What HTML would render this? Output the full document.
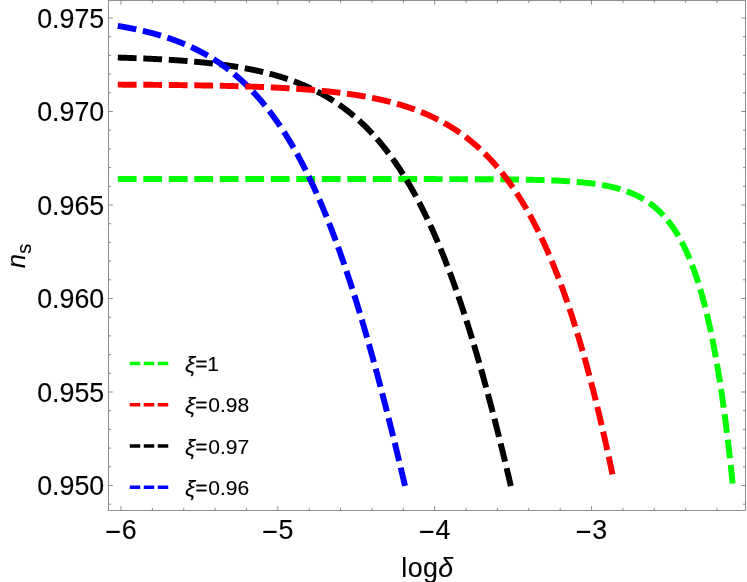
<!DOCTYPE html>
<html><head><meta charset="utf-8"><title>plot</title>
<style>
html,body{margin:0;padding:0;background:#fff;}
svg{display:block;will-change:transform;}
text{font-family:"Liberation Sans",sans-serif;font-size:26.8px;fill:#000;stroke:#000;stroke-width:0.12px;}
</style></head><body>
<svg width="747" height="582" viewBox="0 0 747 582">
<rect width="747" height="582" fill="#fff"/>
<g>
<path d="M117.80,179.05 L118.30,179.05 L118.80,179.05 L119.30,179.05 L119.80,179.05 L120.30,179.05 L120.80,179.05 L121.30,179.05 L121.80,179.05 L122.30,179.05 L122.80,179.05 L123.30,179.05 L123.80,179.05 L124.30,179.05 L124.80,179.05 L125.30,179.05 L125.80,179.05 L126.30,179.05 L126.80,179.05 L127.30,179.05 L127.80,179.05 L128.30,179.05 L128.80,179.05 L129.30,179.05 L129.80,179.05 L130.30,179.05 L130.80,179.05 L131.30,179.05 L131.80,179.05 L132.30,179.05 L132.80,179.05 L133.30,179.05 L133.80,179.05 L134.30,179.05 L134.80,179.05 L135.30,179.05 L135.80,179.05 L136.30,179.05 L136.80,179.05 L137.30,179.05 L137.80,179.05 L138.30,179.05 L138.80,179.05 L139.30,179.05 L139.80,179.05 L140.30,179.05 L140.80,179.05 L141.30,179.05 L141.80,179.05 L142.30,179.05 L142.80,179.05 L143.30,179.05 L143.80,179.05 L144.30,179.05 L144.80,179.05 L145.30,179.05 L145.80,179.05 L146.30,179.05 L146.80,179.05 L147.30,179.05 L147.80,179.05 L148.30,179.05 L148.80,179.05 L149.30,179.05 L149.80,179.05 L150.30,179.05 L150.80,179.05 L151.30,179.05 L151.80,179.05 L152.30,179.05 L152.80,179.05 L153.30,179.05 L153.80,179.05 L154.30,179.05 L154.80,179.05 L155.30,179.05 L155.80,179.05 L156.30,179.05 L156.80,179.05 L157.30,179.05 L157.80,179.05 L158.30,179.05 L158.80,179.05 L159.30,179.05 L159.80,179.05 L160.30,179.05 L160.80,179.05 L161.30,179.05 L161.80,179.05 L162.30,179.05 L162.80,179.05 L163.30,179.05 L163.80,179.05 L164.30,179.05 L164.80,179.05 L165.30,179.05 L165.80,179.05 L166.30,179.05 L166.80,179.05 L167.30,179.05 L167.80,179.05 L168.30,179.05 L168.80,179.05 L169.30,179.05 L169.80,179.05 L170.30,179.05 L170.80,179.05 L171.30,179.05 L171.80,179.05 L172.30,179.05 L172.80,179.05 L173.30,179.05 L173.80,179.05 L174.30,179.05 L174.80,179.05 L175.30,179.05 L175.80,179.05 L176.30,179.05 L176.80,179.05 L177.30,179.05 L177.80,179.05 L178.30,179.05 L178.80,179.05 L179.30,179.05 L179.80,179.05 L180.30,179.05 L180.80,179.05 L181.30,179.05 L181.80,179.05 L182.30,179.05 L182.80,179.05 L183.30,179.05 L183.80,179.05 L184.30,179.05 L184.80,179.05 L185.30,179.05 L185.80,179.05 L186.30,179.05 L186.80,179.05 L187.30,179.05 L187.80,179.05 L188.30,179.05 L188.80,179.05 L189.30,179.05 L189.80,179.05 L190.30,179.05 L190.80,179.05 L191.30,179.05 L191.80,179.05 L192.30,179.05 L192.80,179.05 L193.30,179.05 L193.80,179.05 L194.30,179.05 L194.80,179.05 L195.30,179.05 L195.80,179.05 L196.30,179.05 L196.80,179.05 L197.30,179.05 L197.80,179.05 L198.30,179.05 L198.80,179.05 L199.30,179.05 L199.80,179.05 L200.30,179.05 L200.80,179.05 L201.30,179.05 L201.80,179.05 L202.30,179.05 L202.80,179.05 L203.30,179.05 L203.80,179.05 L204.30,179.05 L204.80,179.05 L205.30,179.05 L205.80,179.05 L206.30,179.05 L206.80,179.05 L207.30,179.05 L207.80,179.05 L208.30,179.05 L208.80,179.05 L209.30,179.05 L209.80,179.05 L210.30,179.05 L210.80,179.05 L211.30,179.05 L211.80,179.05 L212.30,179.05 L212.80,179.05 L213.30,179.05 L213.80,179.05 L214.30,179.05 L214.80,179.05 L215.30,179.05 L215.80,179.05 L216.30,179.05 L216.80,179.05 L217.30,179.05 L217.80,179.05 L218.30,179.05 L218.80,179.05 L219.30,179.05 L219.80,179.05 L220.30,179.05 L220.80,179.05 L221.30,179.05 L221.80,179.05 L222.30,179.05 L222.80,179.05 L223.30,179.05 L223.80,179.05 L224.30,179.05 L224.80,179.05 L225.30,179.05 L225.80,179.05 L226.30,179.05 L226.80,179.05 L227.30,179.05 L227.80,179.05 L228.30,179.05 L228.80,179.05 L229.30,179.05 L229.80,179.05 L230.30,179.05 L230.80,179.05 L231.30,179.05 L231.80,179.05 L232.30,179.05 L232.80,179.05 L233.30,179.05 L233.80,179.05 L234.30,179.05 L234.80,179.05 L235.30,179.05 L235.80,179.05 L236.30,179.05 L236.80,179.05 L237.30,179.05 L237.80,179.05 L238.30,179.05 L238.80,179.05 L239.30,179.05 L239.80,179.05 L240.30,179.05 L240.80,179.05 L241.30,179.05 L241.80,179.05 L242.30,179.05 L242.80,179.05 L243.30,179.05 L243.80,179.05 L244.30,179.05 L244.80,179.05 L245.30,179.05 L245.80,179.05 L246.30,179.05 L246.80,179.05 L247.30,179.05 L247.80,179.05 L248.30,179.05 L248.80,179.05 L249.30,179.05 L249.80,179.05 L250.30,179.05 L250.80,179.05 L251.30,179.05 L251.80,179.05 L252.30,179.05 L252.80,179.05 L253.30,179.05 L253.80,179.05 L254.30,179.05 L254.80,179.05 L255.30,179.05 L255.80,179.05 L256.30,179.05 L256.80,179.05 L257.30,179.05 L257.80,179.05 L258.30,179.05 L258.80,179.05 L259.30,179.05 L259.80,179.05 L260.30,179.05 L260.80,179.05 L261.30,179.05 L261.80,179.05 L262.30,179.05 L262.80,179.05 L263.30,179.05 L263.80,179.05 L264.30,179.05 L264.80,179.05 L265.30,179.05 L265.80,179.05 L266.30,179.05 L266.80,179.05 L267.30,179.05 L267.80,179.05 L268.30,179.05 L268.80,179.05 L269.30,179.05 L269.80,179.05 L270.30,179.05 L270.80,179.05 L271.30,179.05 L271.80,179.05 L272.30,179.05 L272.80,179.05 L273.30,179.05 L273.80,179.05 L274.30,179.05 L274.80,179.05 L275.30,179.05 L275.80,179.05 L276.30,179.05 L276.80,179.05 L277.30,179.05 L277.80,179.05 L278.30,179.05 L278.80,179.05 L279.30,179.05 L279.80,179.05 L280.30,179.05 L280.80,179.05 L281.30,179.05 L281.80,179.05 L282.30,179.05 L282.80,179.05 L283.30,179.05 L283.80,179.05 L284.30,179.05 L284.80,179.05 L285.30,179.05 L285.80,179.05 L286.30,179.05 L286.80,179.05 L287.30,179.05 L287.80,179.05 L288.30,179.05 L288.80,179.05 L289.30,179.05 L289.80,179.05 L290.30,179.05 L290.80,179.05 L291.30,179.05 L291.80,179.05 L292.30,179.05 L292.80,179.05 L293.30,179.05 L293.80,179.05 L294.30,179.05 L294.80,179.05 L295.30,179.05 L295.80,179.05 L296.30,179.05 L296.80,179.05 L297.30,179.05 L297.80,179.05 L298.30,179.05 L298.80,179.05 L299.30,179.05 L299.80,179.05 L300.30,179.05 L300.80,179.05 L301.30,179.05 L301.80,179.05 L302.30,179.05 L302.80,179.05 L303.30,179.05 L303.80,179.05 L304.30,179.05 L304.80,179.05 L305.30,179.05 L305.80,179.05 L306.30,179.05 L306.80,179.05 L307.30,179.05 L307.80,179.05 L308.30,179.05 L308.80,179.05 L309.30,179.05 L309.80,179.05 L310.30,179.05 L310.80,179.05 L311.30,179.05 L311.80,179.05 L312.30,179.05 L312.80,179.05 L313.30,179.05 L313.80,179.05 L314.30,179.05 L314.80,179.05 L315.30,179.05 L315.80,179.05 L316.30,179.05 L316.80,179.05 L317.30,179.05 L317.80,179.05 L318.30,179.05 L318.80,179.05 L319.30,179.05 L319.80,179.05 L320.30,179.05 L320.80,179.05 L321.30,179.05 L321.80,179.05 L322.30,179.05 L322.80,179.05 L323.30,179.05 L323.80,179.05 L324.30,179.05 L324.80,179.05 L325.30,179.05 L325.80,179.05 L326.30,179.05 L326.80,179.05 L327.30,179.05 L327.80,179.05 L328.30,179.05 L328.80,179.05 L329.30,179.05 L329.80,179.05 L330.30,179.05 L330.80,179.05 L331.30,179.05 L331.80,179.05 L332.30,179.05 L332.80,179.05 L333.30,179.05 L333.80,179.05 L334.30,179.05 L334.80,179.05 L335.30,179.05 L335.80,179.05 L336.30,179.05 L336.80,179.05 L337.30,179.05 L337.80,179.05 L338.30,179.05 L338.80,179.05 L339.30,179.05 L339.80,179.05 L340.30,179.05 L340.80,179.05 L341.30,179.05 L341.80,179.05 L342.30,179.05 L342.80,179.05 L343.30,179.05 L343.80,179.05 L344.30,179.05 L344.80,179.05 L345.30,179.05 L345.80,179.05 L346.30,179.05 L346.80,179.05 L347.30,179.05 L347.80,179.05 L348.30,179.05 L348.80,179.05 L349.30,179.05 L349.80,179.05 L350.30,179.05 L350.80,179.05 L351.30,179.05 L351.80,179.05 L352.30,179.05 L352.80,179.05 L353.30,179.05 L353.80,179.05 L354.30,179.05 L354.80,179.05 L355.30,179.05 L355.80,179.05 L356.30,179.05 L356.80,179.05 L357.30,179.05 L357.80,179.05 L358.30,179.05 L358.80,179.05 L359.30,179.05 L359.80,179.05 L360.30,179.05 L360.80,179.05 L361.30,179.06 L361.80,179.06 L362.30,179.06 L362.80,179.06 L363.30,179.06 L363.80,179.06 L364.30,179.06 L364.80,179.06 L365.30,179.06 L365.80,179.06 L366.30,179.06 L366.80,179.06 L367.30,179.06 L367.80,179.06 L368.30,179.06 L368.80,179.06 L369.30,179.06 L369.80,179.06 L370.30,179.06 L370.80,179.06 L371.30,179.06 L371.80,179.06 L372.30,179.06 L372.80,179.06 L373.30,179.06 L373.80,179.06 L374.30,179.06 L374.80,179.06 L375.30,179.06 L375.80,179.06 L376.30,179.06 L376.80,179.06 L377.30,179.06 L377.80,179.06 L378.30,179.06 L378.80,179.06 L379.30,179.06 L379.80,179.06 L380.30,179.06 L380.80,179.06 L381.30,179.06 L381.80,179.06 L382.30,179.06 L382.80,179.06 L383.30,179.06 L383.80,179.06 L384.30,179.06 L384.80,179.06 L385.30,179.06 L385.80,179.06 L386.30,179.06 L386.80,179.06 L387.30,179.06 L387.80,179.06 L388.30,179.06 L388.80,179.06 L389.30,179.06 L389.80,179.06 L390.30,179.06 L390.80,179.06 L391.30,179.06 L391.80,179.06 L392.30,179.06 L392.80,179.06 L393.30,179.06 L393.80,179.06 L394.30,179.06 L394.80,179.06 L395.30,179.06 L395.80,179.06 L396.30,179.06 L396.80,179.06 L397.30,179.06 L397.80,179.06 L398.30,179.06 L398.80,179.07 L399.30,179.07 L399.80,179.07 L400.30,179.07 L400.80,179.07 L401.30,179.07 L401.80,179.07 L402.30,179.07 L402.80,179.07 L403.30,179.07 L403.80,179.07 L404.30,179.07 L404.80,179.07 L405.30,179.07 L405.80,179.07 L406.30,179.07 L406.80,179.07 L407.30,179.07 L407.80,179.07 L408.30,179.07 L408.80,179.07 L409.30,179.07 L409.80,179.07 L410.30,179.07 L410.80,179.07 L411.30,179.07 L411.80,179.07 L412.30,179.07 L412.80,179.07 L413.30,179.07 L413.80,179.07 L414.30,179.07 L414.80,179.07 L415.30,179.07 L415.80,179.08 L416.30,179.08 L416.80,179.08 L417.30,179.08 L417.80,179.08 L418.30,179.08 L418.80,179.08 L419.30,179.08 L419.80,179.08 L420.30,179.08 L420.80,179.08 L421.30,179.08 L421.80,179.08 L422.30,179.08 L422.80,179.08 L423.30,179.08 L423.80,179.08 L424.30,179.08 L424.80,179.08 L425.30,179.08 L425.80,179.08 L426.30,179.08 L426.80,179.08 L427.30,179.09 L427.80,179.09 L428.30,179.09 L428.80,179.09 L429.30,179.09 L429.80,179.09 L430.30,179.09 L430.80,179.09 L431.30,179.09 L431.80,179.09 L432.30,179.09 L432.80,179.09 L433.30,179.09 L433.80,179.09 L434.30,179.09 L434.80,179.09 L435.30,179.09 L435.80,179.09 L436.30,179.10 L436.80,179.10 L437.30,179.10 L437.80,179.10 L438.30,179.10 L438.80,179.10 L439.30,179.10 L439.80,179.10 L440.30,179.10 L440.80,179.10 L441.30,179.10 L441.80,179.10 L442.30,179.10 L442.80,179.11 L443.30,179.11 L443.80,179.11 L444.30,179.11 L444.80,179.11 L445.30,179.11 L445.80,179.11 L446.30,179.11 L446.80,179.11 L447.30,179.11 L447.80,179.11 L448.30,179.11 L448.80,179.12 L449.30,179.12 L449.80,179.12 L450.30,179.12 L450.80,179.12 L451.30,179.12 L451.80,179.12 L452.30,179.12 L452.80,179.12 L453.30,179.13 L453.80,179.13 L454.30,179.13 L454.80,179.13 L455.30,179.13 L455.80,179.13 L456.30,179.13 L456.80,179.13 L457.30,179.13 L457.80,179.14 L458.30,179.14 L458.80,179.14 L459.30,179.14 L459.80,179.14 L460.30,179.14 L460.80,179.14 L461.30,179.15 L461.80,179.15 L462.30,179.15 L462.80,179.15 L463.30,179.15 L463.80,179.15 L464.30,179.15 L464.80,179.16 L465.30,179.16 L465.80,179.16 L466.30,179.16 L466.80,179.16 L467.30,179.16 L467.80,179.17 L468.30,179.17 L468.80,179.17 L469.30,179.17 L469.80,179.17 L470.30,179.17 L470.80,179.18 L471.30,179.18 L471.80,179.18 L472.30,179.18 L472.80,179.18 L473.30,179.19 L473.80,179.19 L474.30,179.19 L474.80,179.19 L475.30,179.19 L475.80,179.20 L476.30,179.20 L476.80,179.20 L477.30,179.20 L477.80,179.20 L478.30,179.21 L478.80,179.21 L479.30,179.21 L479.80,179.21 L480.30,179.22 L480.80,179.22 L481.30,179.22 L481.80,179.22 L482.30,179.23 L482.80,179.23 L483.30,179.23 L483.80,179.23 L484.30,179.24 L484.80,179.24 L485.30,179.24 L485.80,179.25 L486.30,179.25 L486.80,179.25 L487.30,179.25 L487.80,179.26 L488.30,179.26 L488.80,179.26 L489.30,179.27 L489.80,179.27 L490.30,179.27 L490.80,179.28 L491.30,179.28 L491.80,179.28 L492.30,179.29 L492.80,179.29 L493.30,179.29 L493.80,179.30 L494.30,179.30 L494.80,179.30 L495.30,179.31 L495.80,179.31 L496.30,179.32 L496.80,179.32 L497.30,179.32 L497.80,179.33 L498.30,179.33 L498.80,179.34 L499.30,179.34 L499.80,179.34 L500.30,179.35 L500.80,179.35 L501.30,179.36 L501.80,179.36 L502.30,179.37 L502.80,179.37 L503.30,179.38 L503.80,179.38 L504.30,179.39 L504.80,179.39 L505.30,179.40 L505.80,179.40 L506.30,179.41 L506.80,179.41 L507.30,179.42 L507.80,179.42 L508.30,179.43 L508.80,179.43 L509.30,179.44 L509.80,179.45 L510.30,179.45 L510.80,179.46 L511.30,179.46 L511.80,179.47 L512.30,179.48 L512.80,179.48 L513.30,179.49 L513.80,179.49 L514.30,179.50 L514.80,179.51 L515.30,179.51 L515.80,179.52 L516.30,179.53 L516.80,179.54 L517.30,179.54 L517.80,179.55 L518.30,179.56 L518.80,179.56 L519.30,179.57 L519.80,179.58 L520.30,179.59 L520.80,179.60 L521.30,179.60 L521.80,179.61 L522.30,179.62 L522.80,179.63 L523.30,179.64 L523.80,179.65 L524.30,179.65 L524.80,179.66 L525.30,179.67 L525.80,179.68 L526.30,179.69 L526.80,179.70 L527.30,179.71 L527.80,179.72 L528.30,179.73 L528.80,179.74 L529.30,179.75 L529.80,179.76 L530.30,179.77 L530.80,179.78 L531.30,179.79 L531.80,179.80 L532.30,179.82 L532.80,179.83 L533.30,179.84 L533.80,179.85 L534.30,179.86 L534.80,179.87 L535.30,179.89 L535.80,179.90 L536.30,179.91 L536.80,179.92 L537.30,179.94 L537.80,179.95 L538.30,179.96 L538.80,179.98 L539.30,179.99 L539.80,180.00 L540.30,180.02 L540.80,180.03 L541.30,180.05 L541.80,180.06 L542.30,180.08 L542.80,180.09 L543.30,180.11 L543.80,180.12 L544.30,180.14 L544.80,180.15 L545.30,180.17 L545.80,180.19 L546.30,180.20 L546.80,180.22 L547.30,180.24 L547.80,180.26 L548.30,180.27 L548.80,180.29 L549.30,180.31 L549.80,180.33 L550.30,180.35 L550.80,180.37 L551.30,180.39 L551.80,180.41 L552.30,180.43 L552.80,180.45 L553.30,180.47 L553.80,180.49 L554.30,180.51 L554.80,180.53 L555.30,180.55 L555.80,180.58 L556.30,180.60 L556.80,180.62 L557.30,180.64 L557.80,180.67 L558.30,180.69 L558.80,180.72 L559.30,180.74 L559.80,180.77 L560.30,180.79 L560.80,180.82 L561.30,180.84 L561.80,180.87 L562.30,180.90 L562.80,180.92 L563.30,180.95 L563.80,180.98 L564.30,181.01 L564.80,181.04 L565.30,181.07 L565.80,181.10 L566.30,181.13 L566.80,181.16 L567.30,181.19 L567.80,181.22 L568.30,181.25 L568.80,181.29 L569.30,181.32 L569.80,181.35 L570.30,181.39 L570.80,181.42 L571.30,181.46 L571.80,181.49 L572.30,181.53 L572.80,181.56 L573.30,181.60 L573.80,181.64 L574.30,181.68 L574.80,181.72 L575.30,181.76 L575.80,181.80 L576.30,181.84 L576.80,181.88 L577.30,181.92 L577.80,181.96 L578.30,182.01 L578.80,182.05 L579.30,182.09 L579.80,182.14 L580.30,182.18 L580.80,182.23 L581.30,182.28 L581.80,182.33 L582.30,182.37 L582.80,182.42 L583.30,182.47 L583.80,182.52 L584.30,182.58 L584.80,182.63 L585.30,182.68 L585.80,182.73 L586.30,182.79 L586.80,182.84 L587.30,182.90 L587.80,182.96 L588.30,183.01 L588.80,183.07 L589.30,183.13 L589.80,183.19 L590.30,183.26 L590.80,183.32 L591.30,183.38 L591.80,183.44 L592.30,183.51 L592.80,183.58 L593.30,183.64 L593.80,183.71 L594.30,183.78 L594.80,183.85 L595.30,183.92 L595.80,183.99 L596.30,184.07 L596.80,184.14 L597.30,184.22 L597.80,184.29 L598.30,184.37 L598.80,184.45 L599.30,184.53 L599.80,184.61 L600.30,184.69 L600.80,184.78 L601.30,184.86 L601.80,184.95 L602.30,185.04 L602.80,185.12 L603.30,185.21 L603.80,185.31 L604.30,185.40 L604.80,185.49 L605.30,185.59 L605.80,185.68 L606.30,185.78 L606.80,185.88 L607.30,185.98 L607.80,186.09 L608.30,186.19 L608.80,186.30 L609.30,186.40 L609.80,186.51 L610.30,186.62 L610.80,186.74 L611.30,186.85 L611.80,186.97 L612.30,187.08 L612.80,187.20 L613.30,187.32 L613.80,187.45 L614.30,187.57 L614.80,187.70 L615.30,187.83 L615.80,187.96 L616.30,188.09 L616.80,188.22 L617.30,188.36 L617.80,188.50 L618.30,188.64 L618.80,188.78 L619.30,188.92 L619.80,189.07 L620.30,189.22 L620.80,189.37 L621.30,189.52 L621.80,189.68 L622.30,189.84 L622.80,190.00 L623.30,190.16 L623.80,190.32 L624.30,190.49 L624.80,190.66 L625.30,190.83 L625.80,191.01 L626.30,191.19 L626.80,191.37 L627.30,191.55 L627.80,191.73 L628.30,191.92 L628.80,192.11 L629.30,192.31 L629.80,192.51 L630.30,192.71 L630.80,192.91 L631.30,193.11 L631.80,193.32 L632.30,193.54 L632.80,193.75 L633.30,193.97 L633.80,194.19 L634.30,194.42 L634.80,194.65 L635.30,194.88 L635.80,195.11 L636.30,195.35 L636.80,195.59 L637.30,195.84 L637.80,196.09 L638.30,196.34 L638.80,196.60 L639.30,196.86 L639.80,197.13 L640.30,197.40 L640.80,197.67 L641.30,197.95 L641.80,198.23 L642.30,198.51 L642.80,198.80 L643.30,199.10 L643.80,199.40 L644.30,199.70 L644.80,200.01 L645.30,200.32 L645.80,200.64 L646.30,200.96 L646.80,201.29 L647.30,201.62 L647.80,201.95 L648.30,202.30 L648.80,202.64 L649.30,202.99 L649.80,203.35 L650.30,203.71 L650.80,204.08 L651.30,204.46 L651.80,204.83 L652.30,205.22 L652.80,205.61 L653.30,206.01 L653.80,206.41 L654.30,206.82 L654.80,207.23 L655.30,207.65 L655.80,208.08 L656.30,208.52 L656.80,208.96 L657.30,209.40 L657.80,209.86 L658.30,210.32 L658.80,210.79 L659.30,211.26 L659.80,211.74 L660.30,212.23 L660.80,212.73 L661.30,213.23 L661.80,213.74 L662.30,214.26 L662.80,214.79 L663.30,215.33 L663.80,215.87 L664.30,216.42 L664.80,216.98 L665.30,217.55 L665.80,218.13 L666.30,218.72 L666.80,219.31 L667.30,219.92 L667.80,220.53 L668.30,221.15 L668.80,221.78 L669.30,222.43 L669.80,223.08 L670.30,223.74 L670.80,224.41 L671.30,225.09 L671.80,225.79 L672.30,226.49 L672.80,227.20 L673.30,227.93 L673.80,228.66 L674.30,229.41 L674.80,230.17 L675.30,230.94 L675.80,231.72 L676.30,232.52 L676.80,233.32 L677.30,234.14 L677.80,234.97 L678.30,235.82 L678.80,236.67 L679.30,237.54 L679.80,238.43 L680.30,239.32 L680.80,240.24 L681.30,241.16 L681.80,242.10 L682.30,243.05 L682.80,244.02 L683.30,245.01 L683.80,246.01 L684.30,247.02 L684.80,248.05 L685.30,249.10 L685.80,250.16 L686.30,251.24 L686.80,252.34 L687.30,253.45 L687.80,254.58 L688.30,255.73 L688.80,256.89 L689.30,258.08 L689.80,259.28 L690.30,260.50 L690.80,261.74 L691.30,263.00 L691.80,264.28 L692.30,265.58 L692.80,266.90 L693.30,268.25 L693.80,269.61 L694.30,270.99 L694.80,272.40 L695.30,273.83 L695.80,275.28 L696.30,276.75 L696.80,278.25 L697.30,279.77 L697.80,281.31 L698.30,282.88 L698.80,284.48 L699.30,286.10 L699.80,287.74 L700.30,289.42 L700.80,291.11 L701.30,292.84 L701.80,294.59 L702.30,296.38 L702.80,298.19 L703.30,300.02 L703.80,301.89 L704.30,303.79 L704.80,305.72 L705.30,307.68 L705.80,309.68 L706.30,311.70 L706.80,313.76 L707.30,315.85 L707.80,317.98 L708.30,320.14 L708.80,322.33 L709.30,324.56 L709.80,326.83 L710.30,329.14 L710.80,331.48 L711.30,333.86 L711.80,336.28 L712.30,338.74 L712.80,341.24 L713.30,343.78 L713.80,346.37 L714.30,349.00 L714.80,351.67 L715.30,354.38 L715.80,357.14 L716.30,359.95 L716.80,362.80 L717.30,365.71 L717.80,368.66 L718.30,371.66 L718.80,374.71 L719.30,377.81 L719.80,380.97 L720.30,384.18 L720.80,387.44 L721.30,390.76 L721.80,394.14 L722.30,397.57 L722.80,401.06 L723.30,404.61 L723.80,408.23 L724.30,411.91 L724.80,415.65 L725.30,419.45 L725.80,423.32 L726.30,427.26 L726.80,431.27 L727.30,435.35 L727.80,439.50 L728.30,443.72 L728.80,448.02 L729.30,452.39 L729.80,456.84 L730.30,461.37 L730.80,465.98 L731.30,470.68 L731.80,475.45 L732.30,480.32 L732.68,484.10" fill="none" stroke="#00ff00" stroke-width="5.95" stroke-dasharray="18.8 6.7"/>
<path d="M117.80,57.57 L118.30,57.59 L118.80,57.60 L119.30,57.62 L119.80,57.63 L120.30,57.65 L120.80,57.66 L121.30,57.68 L121.80,57.69 L122.30,57.71 L122.80,57.72 L123.30,57.74 L123.80,57.76 L124.30,57.77 L124.80,57.79 L125.30,57.80 L125.80,57.82 L126.30,57.84 L126.80,57.85 L127.30,57.87 L127.80,57.89 L128.30,57.90 L128.80,57.92 L129.30,57.94 L129.80,57.95 L130.30,57.97 L130.80,57.99 L131.30,58.01 L131.80,58.02 L132.30,58.04 L132.80,58.06 L133.30,58.08 L133.80,58.10 L134.30,58.11 L134.80,58.13 L135.30,58.15 L135.80,58.17 L136.30,58.19 L136.80,58.21 L137.30,58.23 L137.80,58.25 L138.30,58.27 L138.80,58.28 L139.30,58.30 L139.80,58.32 L140.30,58.34 L140.80,58.36 L141.30,58.39 L141.80,58.41 L142.30,58.43 L142.80,58.45 L143.30,58.47 L143.80,58.49 L144.30,58.51 L144.80,58.53 L145.30,58.55 L145.80,58.57 L146.30,58.60 L146.80,58.62 L147.30,58.64 L147.80,58.66 L148.30,58.69 L148.80,58.71 L149.30,58.73 L149.80,58.75 L150.30,58.78 L150.80,58.80 L151.30,58.82 L151.80,58.85 L152.30,58.87 L152.80,58.90 L153.30,58.92 L153.80,58.94 L154.30,58.97 L154.80,58.99 L155.30,59.02 L155.80,59.04 L156.30,59.07 L156.80,59.09 L157.30,59.12 L157.80,59.15 L158.30,59.17 L158.80,59.20 L159.30,59.23 L159.80,59.25 L160.30,59.28 L160.80,59.31 L161.30,59.33 L161.80,59.36 L162.30,59.39 L162.80,59.42 L163.30,59.44 L163.80,59.47 L164.30,59.50 L164.80,59.53 L165.30,59.56 L165.80,59.59 L166.30,59.62 L166.80,59.65 L167.30,59.68 L167.80,59.71 L168.30,59.74 L168.80,59.77 L169.30,59.80 L169.80,59.83 L170.30,59.86 L170.80,59.89 L171.30,59.92 L171.80,59.95 L172.30,59.98 L172.80,60.02 L173.30,60.05 L173.80,60.08 L174.30,60.12 L174.80,60.15 L175.30,60.18 L175.80,60.22 L176.30,60.25 L176.80,60.28 L177.30,60.32 L177.80,60.35 L178.30,60.39 L178.80,60.42 L179.30,60.46 L179.80,60.49 L180.30,60.53 L180.80,60.57 L181.30,60.60 L181.80,60.64 L182.30,60.68 L182.80,60.71 L183.30,60.75 L183.80,60.79 L184.30,60.83 L184.80,60.86 L185.30,60.90 L185.80,60.94 L186.30,60.98 L186.80,61.02 L187.30,61.06 L187.80,61.10 L188.30,61.14 L188.80,61.18 L189.30,61.22 L189.80,61.26 L190.30,61.31 L190.80,61.35 L191.30,61.39 L191.80,61.43 L192.30,61.47 L192.80,61.52 L193.30,61.56 L193.80,61.61 L194.30,61.65 L194.80,61.69 L195.30,61.74 L195.80,61.78 L196.30,61.83 L196.80,61.87 L197.30,61.92 L197.80,61.97 L198.30,62.01 L198.80,62.06 L199.30,62.11 L199.80,62.16 L200.30,62.20 L200.80,62.25 L201.30,62.30 L201.80,62.35 L202.30,62.40 L202.80,62.45 L203.30,62.50 L203.80,62.55 L204.30,62.60 L204.80,62.65 L205.30,62.70 L205.80,62.76 L206.30,62.81 L206.80,62.86 L207.30,62.91 L207.80,62.97 L208.30,63.02 L208.80,63.08 L209.30,63.13 L209.80,63.19 L210.30,63.24 L210.80,63.30 L211.30,63.35 L211.80,63.41 L212.30,63.47 L212.80,63.53 L213.30,63.58 L213.80,63.64 L214.30,63.70 L214.80,63.76 L215.30,63.82 L215.80,63.88 L216.30,63.94 L216.80,64.00 L217.30,64.06 L217.80,64.13 L218.30,64.19 L218.80,64.25 L219.30,64.31 L219.80,64.38 L220.30,64.44 L220.80,64.51 L221.30,64.57 L221.80,64.64 L222.30,64.70 L222.80,64.77 L223.30,64.84 L223.80,64.90 L224.30,64.97 L224.80,65.04 L225.30,65.11 L225.80,65.18 L226.30,65.25 L226.80,65.32 L227.30,65.39 L227.80,65.46 L228.30,65.54 L228.80,65.61 L229.30,65.68 L229.80,65.76 L230.30,65.83 L230.80,65.90 L231.30,65.98 L231.80,66.06 L232.30,66.13 L232.80,66.21 L233.30,66.29 L233.80,66.36 L234.30,66.44 L234.80,66.52 L235.30,66.60 L235.80,66.68 L236.30,66.76 L236.80,66.84 L237.30,66.93 L237.80,67.01 L238.30,67.09 L238.80,67.18 L239.30,67.26 L239.80,67.35 L240.30,67.43 L240.80,67.52 L241.30,67.61 L241.80,67.69 L242.30,67.78 L242.80,67.87 L243.30,67.96 L243.80,68.05 L244.30,68.14 L244.80,68.23 L245.30,68.33 L245.80,68.42 L246.30,68.51 L246.80,68.61 L247.30,68.70 L247.80,68.80 L248.30,68.89 L248.80,68.99 L249.30,69.09 L249.80,69.19 L250.30,69.28 L250.80,69.38 L251.30,69.48 L251.80,69.59 L252.30,69.69 L252.80,69.79 L253.30,69.89 L253.80,70.00 L254.30,70.10 L254.80,70.21 L255.30,70.32 L255.80,70.42 L256.30,70.53 L256.80,70.64 L257.30,70.75 L257.80,70.86 L258.30,70.97 L258.80,71.08 L259.30,71.20 L259.80,71.31 L260.30,71.42 L260.80,71.54 L261.30,71.65 L261.80,71.77 L262.30,71.89 L262.80,72.01 L263.30,72.13 L263.80,72.25 L264.30,72.37 L264.80,72.49 L265.30,72.61 L265.80,72.74 L266.30,72.86 L266.80,72.99 L267.30,73.11 L267.80,73.24 L268.30,73.37 L268.80,73.50 L269.30,73.63 L269.80,73.76 L270.30,73.89 L270.80,74.02 L271.30,74.16 L271.80,74.29 L272.30,74.43 L272.80,74.57 L273.30,74.70 L273.80,74.84 L274.30,74.98 L274.80,75.12 L275.30,75.26 L275.80,75.41 L276.30,75.55 L276.80,75.69 L277.30,75.84 L277.80,75.99 L278.30,76.14 L278.80,76.28 L279.30,76.43 L279.80,76.59 L280.30,76.74 L280.80,76.89 L281.30,77.05 L281.80,77.20 L282.30,77.36 L282.80,77.51 L283.30,77.67 L283.80,77.83 L284.30,77.99 L284.80,78.16 L285.30,78.32 L285.80,78.48 L286.30,78.65 L286.80,78.82 L287.30,78.99 L287.80,79.15 L288.30,79.33 L288.80,79.50 L289.30,79.67 L289.80,79.84 L290.30,80.02 L290.80,80.20 L291.30,80.37 L291.80,80.55 L292.30,80.73 L292.80,80.91 L293.30,81.10 L293.80,81.28 L294.30,81.47 L294.80,81.65 L295.30,81.84 L295.80,82.03 L296.30,82.22 L296.80,82.42 L297.30,82.61 L297.80,82.80 L298.30,83.00 L298.80,83.20 L299.30,83.40 L299.80,83.60 L300.30,83.80 L300.80,84.00 L301.30,84.21 L301.80,84.41 L302.30,84.62 L302.80,84.83 L303.30,85.04 L303.80,85.25 L304.30,85.47 L304.80,85.68 L305.30,85.90 L305.80,86.12 L306.30,86.34 L306.80,86.56 L307.30,86.78 L307.80,87.00 L308.30,87.23 L308.80,87.46 L309.30,87.69 L309.80,87.92 L310.30,88.15 L310.80,88.38 L311.30,88.62 L311.80,88.86 L312.30,89.10 L312.80,89.34 L313.30,89.58 L313.80,89.82 L314.30,90.07 L314.80,90.32 L315.30,90.57 L315.80,90.82 L316.30,91.07 L316.80,91.32 L317.30,91.58 L317.80,91.84 L318.30,92.10 L318.80,92.36 L319.30,92.62 L319.80,92.89 L320.30,93.15 L320.80,93.42 L321.30,93.69 L321.80,93.97 L322.30,94.24 L322.80,94.52 L323.30,94.80 L323.80,95.08 L324.30,95.36 L324.80,95.64 L325.30,95.93 L325.80,96.22 L326.30,96.51 L326.80,96.80 L327.30,97.09 L327.80,97.39 L328.30,97.69 L328.80,97.99 L329.30,98.29 L329.80,98.59 L330.30,98.90 L330.80,99.21 L331.30,99.52 L331.80,99.83 L332.30,100.15 L332.80,100.46 L333.30,100.78 L333.80,101.11 L334.30,101.43 L334.80,101.76 L335.30,102.08 L335.80,102.41 L336.30,102.75 L336.80,103.08 L337.30,103.42 L337.80,103.76 L338.30,104.10 L338.80,104.45 L339.30,104.79 L339.80,105.14 L340.30,105.49 L340.80,105.85 L341.30,106.20 L341.80,106.56 L342.30,106.92 L342.80,107.29 L343.30,107.65 L343.80,108.02 L344.30,108.39 L344.80,108.77 L345.30,109.14 L345.80,109.52 L346.30,109.90 L346.80,110.28 L347.30,110.67 L347.80,111.06 L348.30,111.45 L348.80,111.85 L349.30,112.24 L349.80,112.64 L350.30,113.04 L350.80,113.45 L351.30,113.86 L351.80,114.27 L352.30,114.68 L352.80,115.10 L353.30,115.52 L353.80,115.94 L354.30,116.36 L354.80,116.79 L355.30,117.22 L355.80,117.65 L356.30,118.09 L356.80,118.53 L357.30,118.97 L357.80,119.41 L358.30,119.86 L358.80,120.31 L359.30,120.77 L359.80,121.22 L360.30,121.68 L360.80,122.14 L361.30,122.61 L361.80,123.08 L362.30,123.55 L362.80,124.03 L363.30,124.50 L363.80,124.99 L364.30,125.47 L364.80,125.96 L365.30,126.45 L365.80,126.94 L366.30,127.44 L366.80,127.94 L367.30,128.45 L367.80,128.95 L368.30,129.46 L368.80,129.98 L369.30,130.49 L369.80,131.02 L370.30,131.54 L370.80,132.07 L371.30,132.60 L371.80,133.13 L372.30,133.67 L372.80,134.21 L373.30,134.76 L373.80,135.31 L374.30,135.86 L374.80,136.41 L375.30,136.97 L375.80,137.54 L376.30,138.10 L376.80,138.67 L377.30,139.25 L377.80,139.82 L378.30,140.41 L378.80,140.99 L379.30,141.58 L379.80,142.17 L380.30,142.77 L380.80,143.37 L381.30,143.97 L381.80,144.58 L382.30,145.19 L382.80,145.81 L383.30,146.43 L383.80,147.05 L384.30,147.68 L384.80,148.31 L385.30,148.95 L385.80,149.59 L386.30,150.23 L386.80,150.88 L387.30,151.53 L387.80,152.18 L388.30,152.84 L388.80,153.51 L389.30,154.18 L389.80,154.85 L390.30,155.53 L390.80,156.21 L391.30,156.89 L391.80,157.58 L392.30,158.28 L392.80,158.97 L393.30,159.68 L393.80,160.38 L394.30,161.10 L394.80,161.81 L395.30,162.53 L395.80,163.26 L396.30,163.99 L396.80,164.72 L397.30,165.46 L397.80,166.20 L398.30,166.95 L398.80,167.70 L399.30,168.46 L399.80,169.22 L400.30,169.98 L400.80,170.75 L401.30,171.53 L401.80,172.31 L402.30,173.09 L402.80,173.88 L403.30,174.68 L403.80,175.47 L404.30,176.28 L404.80,177.09 L405.30,177.90 L405.80,178.72 L406.30,179.54 L406.80,180.37 L407.30,181.20 L407.80,182.04 L408.30,182.89 L408.80,183.73 L409.30,184.59 L409.80,185.45 L410.30,186.31 L410.80,187.18 L411.30,188.05 L411.80,188.93 L412.30,189.81 L412.80,190.70 L413.30,191.60 L413.80,192.50 L414.30,193.40 L414.80,194.31 L415.30,195.23 L415.80,196.15 L416.30,197.08 L416.80,198.01 L417.30,198.95 L417.80,199.89 L418.30,200.84 L418.80,201.79 L419.30,202.75 L419.80,203.71 L420.30,204.68 L420.80,205.66 L421.30,206.64 L421.80,207.63 L422.30,208.62 L422.80,209.62 L423.30,210.62 L423.80,211.63 L424.30,212.65 L424.80,213.67 L425.30,214.69 L425.80,215.73 L426.30,216.76 L426.80,217.81 L427.30,218.86 L427.80,219.91 L428.30,220.97 L428.80,222.04 L429.30,223.11 L429.80,224.19 L430.30,225.28 L430.80,226.37 L431.30,227.47 L431.80,228.57 L432.30,229.68 L432.80,230.79 L433.30,231.92 L433.80,233.04 L434.30,234.18 L434.80,235.32 L435.30,236.46 L435.80,237.61 L436.30,238.77 L436.80,239.94 L437.30,241.11 L437.80,242.28 L438.30,243.47 L438.80,244.66 L439.30,245.85 L439.80,247.05 L440.30,248.26 L440.80,249.48 L441.30,250.70 L441.80,251.92 L442.30,253.16 L442.80,254.40 L443.30,255.64 L443.80,256.90 L444.30,258.16 L444.80,259.42 L445.30,260.69 L445.80,261.97 L446.30,263.26 L446.80,264.55 L447.30,265.85 L447.80,267.15 L448.30,268.47 L448.80,269.78 L449.30,271.11 L449.80,272.44 L450.30,273.78 L450.80,275.12 L451.30,276.47 L451.80,277.83 L452.30,279.20 L452.80,280.57 L453.30,281.95 L453.80,283.33 L454.30,284.72 L454.80,286.12 L455.30,287.53 L455.80,288.94 L456.30,290.36 L456.80,291.78 L457.30,293.21 L457.80,294.65 L458.30,296.10 L458.80,297.55 L459.30,299.01 L459.80,300.48 L460.30,301.95 L460.80,303.43 L461.30,304.92 L461.80,306.41 L462.30,307.91 L462.80,309.42 L463.30,310.93 L463.80,312.46 L464.30,313.98 L464.80,315.52 L465.30,317.06 L465.80,318.61 L466.30,320.17 L466.80,321.73 L467.30,323.30 L467.80,324.88 L468.30,326.46 L468.80,328.05 L469.30,329.65 L469.80,331.25 L470.30,332.86 L470.80,334.48 L471.30,336.11 L471.80,337.74 L472.30,339.38 L472.80,341.03 L473.30,342.68 L473.80,344.34 L474.30,346.01 L474.80,347.68 L475.30,349.36 L475.80,351.05 L476.30,352.75 L476.80,354.45 L477.30,356.16 L477.80,357.87 L478.30,359.60 L478.80,361.33 L479.30,363.06 L479.80,364.81 L480.30,366.56 L480.80,368.32 L481.30,370.08 L481.80,371.85 L482.30,373.63 L482.80,375.41 L483.30,377.21 L483.80,379.01 L484.30,380.81 L484.80,382.62 L485.30,384.44 L485.80,386.27 L486.30,388.10 L486.80,389.94 L487.30,391.79 L487.80,393.64 L488.30,395.50 L488.80,397.37 L489.30,399.24 L489.80,401.12 L490.30,403.01 L490.80,404.91 L491.30,406.81 L491.80,408.71 L492.30,410.63 L492.80,412.55 L493.30,414.47 L493.80,416.41 L494.30,418.35 L494.80,420.30 L495.30,422.25 L495.80,424.21 L496.30,426.18 L496.80,428.15 L497.30,430.13 L497.80,432.11 L498.30,434.11 L498.80,436.10 L499.30,438.11 L499.80,440.12 L500.30,442.14 L500.80,444.16 L501.30,446.19 L501.80,448.23 L502.30,450.27 L502.80,452.32 L503.30,454.38 L503.80,456.44 L504.30,458.50 L504.80,460.58 L505.30,462.66 L505.80,464.74 L506.30,466.83 L506.80,468.93 L507.30,471.04 L507.80,473.14 L508.30,475.26 L508.80,477.38 L509.30,479.51 L509.80,481.64 L510.30,483.78 L510.80,485.92 L510.84,486.10" fill="none" stroke="#000000" stroke-width="5.95" stroke-dasharray="18.8 6.7"/>
<path d="M117.80,25.93 L118.30,26.02 L118.80,26.10 L119.30,26.18 L119.80,26.26 L120.30,26.35 L120.80,26.43 L121.30,26.52 L121.80,26.60 L122.30,26.69 L122.80,26.78 L123.30,26.87 L123.80,26.95 L124.30,27.04 L124.80,27.13 L125.30,27.22 L125.80,27.31 L126.30,27.41 L126.80,27.50 L127.30,27.59 L127.80,27.69 L128.30,27.78 L128.80,27.88 L129.30,27.97 L129.80,28.07 L130.30,28.16 L130.80,28.26 L131.30,28.36 L131.80,28.46 L132.30,28.56 L132.80,28.66 L133.30,28.76 L133.80,28.86 L134.30,28.97 L134.80,29.07 L135.30,29.17 L135.80,29.28 L136.30,29.39 L136.80,29.49 L137.30,29.60 L137.80,29.71 L138.30,29.82 L138.80,29.93 L139.30,30.04 L139.80,30.15 L140.30,30.26 L140.80,30.37 L141.30,30.49 L141.80,30.60 L142.30,30.72 L142.80,30.83 L143.30,30.95 L143.80,31.07 L144.30,31.19 L144.80,31.31 L145.30,31.43 L145.80,31.55 L146.30,31.67 L146.80,31.79 L147.30,31.92 L147.80,32.04 L148.30,32.17 L148.80,32.29 L149.30,32.42 L149.80,32.55 L150.30,32.68 L150.80,32.81 L151.30,32.94 L151.80,33.07 L152.30,33.20 L152.80,33.34 L153.30,33.47 L153.80,33.61 L154.30,33.75 L154.80,33.88 L155.30,34.02 L155.80,34.16 L156.30,34.30 L156.80,34.45 L157.30,34.59 L157.80,34.73 L158.30,34.88 L158.80,35.02 L159.30,35.17 L159.80,35.32 L160.30,35.47 L160.80,35.62 L161.30,35.77 L161.80,35.92 L162.30,36.07 L162.80,36.23 L163.30,36.38 L163.80,36.54 L164.30,36.70 L164.80,36.86 L165.30,37.02 L165.80,37.18 L166.30,37.34 L166.80,37.50 L167.30,37.67 L167.80,37.83 L168.30,38.00 L168.80,38.17 L169.30,38.34 L169.80,38.51 L170.30,38.68 L170.80,38.85 L171.30,39.03 L171.80,39.20 L172.30,39.38 L172.80,39.56 L173.30,39.74 L173.80,39.92 L174.30,40.10 L174.80,40.28 L175.30,40.47 L175.80,40.65 L176.30,40.84 L176.80,41.03 L177.30,41.21 L177.80,41.41 L178.30,41.60 L178.80,41.79 L179.30,41.99 L179.80,42.18 L180.30,42.38 L180.80,42.58 L181.30,42.78 L181.80,42.98 L182.30,43.18 L182.80,43.39 L183.30,43.60 L183.80,43.80 L184.30,44.01 L184.80,44.22 L185.30,44.43 L185.80,44.65 L186.30,44.86 L186.80,45.08 L187.30,45.30 L187.80,45.52 L188.30,45.74 L188.80,45.96 L189.30,46.18 L189.80,46.41 L190.30,46.64 L190.80,46.87 L191.30,47.10 L191.80,47.33 L192.30,47.56 L192.80,47.80 L193.30,48.03 L193.80,48.27 L194.30,48.51 L194.80,48.75 L195.30,49.00 L195.80,49.24 L196.30,49.49 L196.80,49.74 L197.30,49.99 L197.80,50.24 L198.30,50.50 L198.80,50.75 L199.30,51.01 L199.80,51.27 L200.30,51.53 L200.80,51.79 L201.30,52.06 L201.80,52.32 L202.30,52.59 L202.80,52.86 L203.30,53.13 L203.80,53.41 L204.30,53.68 L204.80,53.96 L205.30,54.24 L205.80,54.52 L206.30,54.81 L206.80,55.09 L207.30,55.38 L207.80,55.67 L208.30,55.96 L208.80,56.25 L209.30,56.55 L209.80,56.85 L210.30,57.14 L210.80,57.45 L211.30,57.75 L211.80,58.06 L212.30,58.36 L212.80,58.67 L213.30,58.98 L213.80,59.30 L214.30,59.62 L214.80,59.93 L215.30,60.25 L215.80,60.58 L216.30,60.90 L216.80,61.23 L217.30,61.56 L217.80,61.89 L218.30,62.22 L218.80,62.56 L219.30,62.90 L219.80,63.24 L220.30,63.58 L220.80,63.93 L221.30,64.28 L221.80,64.63 L222.30,64.98 L222.80,65.33 L223.30,65.69 L223.80,66.05 L224.30,66.41 L224.80,66.78 L225.30,67.14 L225.80,67.51 L226.30,67.88 L226.80,68.26 L227.30,68.64 L227.80,69.02 L228.30,69.40 L228.80,69.78 L229.30,70.17 L229.80,70.56 L230.30,70.95 L230.80,71.35 L231.30,71.74 L231.80,72.14 L232.30,72.55 L232.80,72.95 L233.30,73.36 L233.80,73.77 L234.30,74.19 L234.80,74.60 L235.30,75.02 L235.80,75.44 L236.30,75.87 L236.80,76.30 L237.30,76.73 L237.80,77.16 L238.30,77.60 L238.80,78.04 L239.30,78.48 L239.80,78.92 L240.30,79.37 L240.80,79.82 L241.30,80.27 L241.80,80.73 L242.30,81.19 L242.80,81.65 L243.30,82.12 L243.80,82.59 L244.30,83.06 L244.80,83.54 L245.30,84.01 L245.80,84.50 L246.30,84.98 L246.80,85.47 L247.30,85.96 L247.80,86.45 L248.30,86.95 L248.80,87.45 L249.30,87.95 L249.80,88.46 L250.30,88.97 L250.80,89.48 L251.30,90.00 L251.80,90.52 L252.30,91.04 L252.80,91.57 L253.30,92.10 L253.80,92.63 L254.30,93.17 L254.80,93.71 L255.30,94.26 L255.80,94.80 L256.30,95.36 L256.80,95.91 L257.30,96.47 L257.80,97.03 L258.30,97.59 L258.80,98.16 L259.30,98.74 L259.80,99.31 L260.30,99.89 L260.80,100.48 L261.30,101.06 L261.80,101.65 L262.30,102.25 L262.80,102.85 L263.30,103.45 L263.80,104.05 L264.30,104.66 L264.80,105.28 L265.30,105.89 L265.80,106.52 L266.30,107.14 L266.80,107.77 L267.30,108.40 L267.80,109.04 L268.30,109.68 L268.80,110.32 L269.30,110.97 L269.80,111.63 L270.30,112.28 L270.80,112.94 L271.30,113.61 L271.80,114.28 L272.30,114.95 L272.80,115.63 L273.30,116.31 L273.80,117.00 L274.30,117.69 L274.80,118.38 L275.30,119.08 L275.80,119.78 L276.30,120.49 L276.80,121.20 L277.30,121.92 L277.80,122.64 L278.30,123.36 L278.80,124.09 L279.30,124.82 L279.80,125.56 L280.30,126.30 L280.80,127.05 L281.30,127.80 L281.80,128.56 L282.30,129.32 L282.80,130.08 L283.30,130.85 L283.80,131.62 L284.30,132.40 L284.80,133.18 L285.30,133.97 L285.80,134.76 L286.30,135.56 L286.80,136.36 L287.30,137.17 L287.80,137.98 L288.30,138.80 L288.80,139.62 L289.30,140.44 L289.80,141.27 L290.30,142.11 L290.80,142.95 L291.30,143.79 L291.80,144.64 L292.30,145.50 L292.80,146.36 L293.30,147.22 L293.80,148.09 L294.30,148.97 L294.80,149.85 L295.30,150.73 L295.80,151.62 L296.30,152.52 L296.80,153.42 L297.30,154.32 L297.80,155.23 L298.30,156.15 L298.80,157.07 L299.30,157.99 L299.80,158.92 L300.30,159.86 L300.80,160.80 L301.30,161.75 L301.80,162.70 L302.30,163.66 L302.80,164.62 L303.30,165.59 L303.80,166.56 L304.30,167.54 L304.80,168.53 L305.30,169.52 L305.80,170.51 L306.30,171.51 L306.80,172.52 L307.30,173.53 L307.80,174.55 L308.30,175.57 L308.80,176.60 L309.30,177.63 L309.80,178.67 L310.30,179.72 L310.80,180.77 L311.30,181.82 L311.80,182.88 L312.30,183.95 L312.80,185.03 L313.30,186.10 L313.80,187.19 L314.30,188.28 L314.80,189.38 L315.30,190.48 L315.80,191.59 L316.30,192.70 L316.80,193.82 L317.30,194.94 L317.80,196.07 L318.30,197.21 L318.80,198.35 L319.30,199.50 L319.80,200.66 L320.30,201.82 L320.80,202.98 L321.30,204.16 L321.80,205.33 L322.30,206.52 L322.80,207.71 L323.30,208.90 L323.80,210.11 L324.30,211.31 L324.80,212.53 L325.30,213.75 L325.80,214.98 L326.30,216.21 L326.80,217.45 L327.30,218.69 L327.80,219.94 L328.30,221.20 L328.80,222.46 L329.30,223.73 L329.80,225.01 L330.30,226.29 L330.80,227.58 L331.30,228.87 L331.80,230.17 L332.30,231.47 L332.80,232.79 L333.30,234.11 L333.80,235.43 L334.30,236.76 L334.80,238.10 L335.30,239.44 L335.80,240.79 L336.30,242.15 L336.80,243.51 L337.30,244.88 L337.80,246.25 L338.30,247.64 L338.80,249.02 L339.30,250.42 L339.80,251.82 L340.30,253.22 L340.80,254.64 L341.30,256.05 L341.80,257.48 L342.30,258.91 L342.80,260.35 L343.30,261.79 L343.80,263.24 L344.30,264.70 L344.80,266.17 L345.30,267.63 L345.80,269.11 L346.30,270.59 L346.80,272.08 L347.30,273.58 L347.80,275.08 L348.30,276.59 L348.80,278.10 L349.30,279.62 L349.80,281.15 L350.30,282.68 L350.80,284.22 L351.30,285.77 L351.80,287.32 L352.30,288.88 L352.80,290.44 L353.30,292.01 L353.80,293.59 L354.30,295.17 L354.80,296.76 L355.30,298.36 L355.80,299.96 L356.30,301.57 L356.80,303.19 L357.30,304.81 L357.80,306.44 L358.30,308.07 L358.80,309.71 L359.30,311.36 L359.80,313.01 L360.30,314.67 L360.80,316.34 L361.30,318.01 L361.80,319.69 L362.30,321.37 L362.80,323.06 L363.30,324.76 L363.80,326.46 L364.30,328.17 L364.80,329.88 L365.30,331.60 L365.80,333.33 L366.30,335.06 L366.80,336.80 L367.30,338.55 L367.80,340.30 L368.30,342.06 L368.80,343.82 L369.30,345.59 L369.80,347.36 L370.30,349.14 L370.80,350.93 L371.30,352.72 L371.80,354.52 L372.30,356.33 L372.80,358.14 L373.30,359.96 L373.80,361.78 L374.30,363.61 L374.80,365.44 L375.30,367.28 L375.80,369.13 L376.30,370.98 L376.80,372.83 L377.30,374.70 L377.80,376.56 L378.30,378.44 L378.80,380.32 L379.30,382.20 L379.80,384.09 L380.30,385.99 L380.80,387.89 L381.30,389.80 L381.80,391.71 L382.30,393.63 L382.80,395.55 L383.30,397.48 L383.80,399.41 L384.30,401.35 L384.80,403.30 L385.30,405.25 L385.80,407.20 L386.30,409.16 L386.80,411.13 L387.30,413.10 L387.80,415.07 L388.30,417.05 L388.80,419.04 L389.30,421.03 L389.80,423.02 L390.30,425.02 L390.80,427.03 L391.30,429.04 L391.80,431.05 L392.30,433.07 L392.80,435.09 L393.30,437.12 L393.80,439.16 L394.30,441.19 L394.80,443.24 L395.30,445.28 L395.80,447.33 L396.30,449.39 L396.80,451.45 L397.30,453.51 L397.80,455.58 L398.30,457.65 L398.80,459.73 L399.30,461.81 L399.80,463.90 L400.30,465.99 L400.80,468.08 L401.30,470.18 L401.80,472.28 L402.30,474.39 L402.80,476.50 L403.30,478.61 L403.80,480.73 L404.30,482.85 L404.80,484.97 L405.07,486.10" fill="none" stroke="#0000ff" stroke-width="5.95" stroke-dasharray="18.8 6.7"/>
<path d="M117.80,84.63 L118.30,84.63 L118.80,84.63 L119.30,84.63 L119.80,84.64 L120.30,84.64 L120.80,84.64 L121.30,84.64 L121.80,84.65 L122.30,84.65 L122.80,84.65 L123.30,84.65 L123.80,84.66 L124.30,84.66 L124.80,84.66 L125.30,84.66 L125.80,84.67 L126.30,84.67 L126.80,84.67 L127.30,84.68 L127.80,84.68 L128.30,84.68 L128.80,84.68 L129.30,84.69 L129.80,84.69 L130.30,84.69 L130.80,84.69 L131.30,84.70 L131.80,84.70 L132.30,84.70 L132.80,84.71 L133.30,84.71 L133.80,84.71 L134.30,84.72 L134.80,84.72 L135.30,84.72 L135.80,84.72 L136.30,84.73 L136.80,84.73 L137.30,84.73 L137.80,84.74 L138.30,84.74 L138.80,84.74 L139.30,84.75 L139.80,84.75 L140.30,84.75 L140.80,84.76 L141.30,84.76 L141.80,84.76 L142.30,84.77 L142.80,84.77 L143.30,84.77 L143.80,84.78 L144.30,84.78 L144.80,84.78 L145.30,84.79 L145.80,84.79 L146.30,84.80 L146.80,84.80 L147.30,84.80 L147.80,84.81 L148.30,84.81 L148.80,84.81 L149.30,84.82 L149.80,84.82 L150.30,84.83 L150.80,84.83 L151.30,84.83 L151.80,84.84 L152.30,84.84 L152.80,84.85 L153.30,84.85 L153.80,84.85 L154.30,84.86 L154.80,84.86 L155.30,84.87 L155.80,84.87 L156.30,84.87 L156.80,84.88 L157.30,84.88 L157.80,84.89 L158.30,84.89 L158.80,84.90 L159.30,84.90 L159.80,84.90 L160.30,84.91 L160.80,84.91 L161.30,84.92 L161.80,84.92 L162.30,84.93 L162.80,84.93 L163.30,84.94 L163.80,84.94 L164.30,84.95 L164.80,84.95 L165.30,84.96 L165.80,84.96 L166.30,84.96 L166.80,84.97 L167.30,84.97 L167.80,84.98 L168.30,84.98 L168.80,84.99 L169.30,84.99 L169.80,85.00 L170.30,85.00 L170.80,85.01 L171.30,85.02 L171.80,85.02 L172.30,85.03 L172.80,85.03 L173.30,85.04 L173.80,85.04 L174.30,85.05 L174.80,85.05 L175.30,85.06 L175.80,85.06 L176.30,85.07 L176.80,85.08 L177.30,85.08 L177.80,85.09 L178.30,85.09 L178.80,85.10 L179.30,85.10 L179.80,85.11 L180.30,85.12 L180.80,85.12 L181.30,85.13 L181.80,85.13 L182.30,85.14 L182.80,85.15 L183.30,85.15 L183.80,85.16 L184.30,85.17 L184.80,85.17 L185.30,85.18 L185.80,85.18 L186.30,85.19 L186.80,85.20 L187.30,85.20 L187.80,85.21 L188.30,85.22 L188.80,85.22 L189.30,85.23 L189.80,85.24 L190.30,85.25 L190.80,85.25 L191.30,85.26 L191.80,85.27 L192.30,85.27 L192.80,85.28 L193.30,85.29 L193.80,85.30 L194.30,85.30 L194.80,85.31 L195.30,85.32 L195.80,85.32 L196.30,85.33 L196.80,85.34 L197.30,85.35 L197.80,85.36 L198.30,85.36 L198.80,85.37 L199.30,85.38 L199.80,85.39 L200.30,85.39 L200.80,85.40 L201.30,85.41 L201.80,85.42 L202.30,85.43 L202.80,85.44 L203.30,85.44 L203.80,85.45 L204.30,85.46 L204.80,85.47 L205.30,85.48 L205.80,85.49 L206.30,85.50 L206.80,85.50 L207.30,85.51 L207.80,85.52 L208.30,85.53 L208.80,85.54 L209.30,85.55 L209.80,85.56 L210.30,85.57 L210.80,85.58 L211.30,85.59 L211.80,85.60 L212.30,85.61 L212.80,85.62 L213.30,85.62 L213.80,85.63 L214.30,85.64 L214.80,85.65 L215.30,85.66 L215.80,85.67 L216.30,85.68 L216.80,85.69 L217.30,85.70 L217.80,85.72 L218.30,85.73 L218.80,85.74 L219.30,85.75 L219.80,85.76 L220.30,85.77 L220.80,85.78 L221.30,85.79 L221.80,85.80 L222.30,85.81 L222.80,85.82 L223.30,85.83 L223.80,85.85 L224.30,85.86 L224.80,85.87 L225.30,85.88 L225.80,85.89 L226.30,85.90 L226.80,85.92 L227.30,85.93 L227.80,85.94 L228.30,85.95 L228.80,85.96 L229.30,85.98 L229.80,85.99 L230.30,86.00 L230.80,86.01 L231.30,86.03 L231.80,86.04 L232.30,86.05 L232.80,86.06 L233.30,86.08 L233.80,86.09 L234.30,86.10 L234.80,86.12 L235.30,86.13 L235.80,86.14 L236.30,86.16 L236.80,86.17 L237.30,86.18 L237.80,86.20 L238.30,86.21 L238.80,86.23 L239.30,86.24 L239.80,86.25 L240.30,86.27 L240.80,86.28 L241.30,86.30 L241.80,86.31 L242.30,86.33 L242.80,86.34 L243.30,86.36 L243.80,86.37 L244.30,86.39 L244.80,86.40 L245.30,86.42 L245.80,86.43 L246.30,86.45 L246.80,86.47 L247.30,86.48 L247.80,86.50 L248.30,86.51 L248.80,86.53 L249.30,86.55 L249.80,86.56 L250.30,86.58 L250.80,86.60 L251.30,86.61 L251.80,86.63 L252.30,86.65 L252.80,86.66 L253.30,86.68 L253.80,86.70 L254.30,86.72 L254.80,86.74 L255.30,86.75 L255.80,86.77 L256.30,86.79 L256.80,86.81 L257.30,86.83 L257.80,86.84 L258.30,86.86 L258.80,86.88 L259.30,86.90 L259.80,86.92 L260.30,86.94 L260.80,86.96 L261.30,86.98 L261.80,87.00 L262.30,87.02 L262.80,87.04 L263.30,87.06 L263.80,87.08 L264.30,87.10 L264.80,87.12 L265.30,87.14 L265.80,87.16 L266.30,87.18 L266.80,87.20 L267.30,87.23 L267.80,87.25 L268.30,87.27 L268.80,87.29 L269.30,87.31 L269.80,87.33 L270.30,87.36 L270.80,87.38 L271.30,87.40 L271.80,87.42 L272.30,87.45 L272.80,87.47 L273.30,87.49 L273.80,87.52 L274.30,87.54 L274.80,87.57 L275.30,87.59 L275.80,87.61 L276.30,87.64 L276.80,87.66 L277.30,87.69 L277.80,87.71 L278.30,87.74 L278.80,87.76 L279.30,87.79 L279.80,87.81 L280.30,87.84 L280.80,87.87 L281.30,87.89 L281.80,87.92 L282.30,87.94 L282.80,87.97 L283.30,88.00 L283.80,88.03 L284.30,88.05 L284.80,88.08 L285.30,88.11 L285.80,88.14 L286.30,88.16 L286.80,88.19 L287.30,88.22 L287.80,88.25 L288.30,88.28 L288.80,88.31 L289.30,88.34 L289.80,88.37 L290.30,88.40 L290.80,88.43 L291.30,88.46 L291.80,88.49 L292.30,88.52 L292.80,88.55 L293.30,88.58 L293.80,88.61 L294.30,88.65 L294.80,88.68 L295.30,88.71 L295.80,88.74 L296.30,88.77 L296.80,88.81 L297.30,88.84 L297.80,88.87 L298.30,88.91 L298.80,88.94 L299.30,88.98 L299.80,89.01 L300.30,89.04 L300.80,89.08 L301.30,89.11 L301.80,89.15 L302.30,89.19 L302.80,89.22 L303.30,89.26 L303.80,89.29 L304.30,89.33 L304.80,89.37 L305.30,89.41 L305.80,89.44 L306.30,89.48 L306.80,89.52 L307.30,89.56 L307.80,89.60 L308.30,89.63 L308.80,89.67 L309.30,89.71 L309.80,89.75 L310.30,89.79 L310.80,89.83 L311.30,89.87 L311.80,89.92 L312.30,89.96 L312.80,90.00 L313.30,90.04 L313.80,90.08 L314.30,90.12 L314.80,90.17 L315.30,90.21 L315.80,90.25 L316.30,90.30 L316.80,90.34 L317.30,90.39 L317.80,90.43 L318.30,90.48 L318.80,90.52 L319.30,90.57 L319.80,90.61 L320.30,90.66 L320.80,90.71 L321.30,90.75 L321.80,90.80 L322.30,90.85 L322.80,90.90 L323.30,90.95 L323.80,90.99 L324.30,91.04 L324.80,91.09 L325.30,91.14 L325.80,91.19 L326.30,91.24 L326.80,91.29 L327.30,91.35 L327.80,91.40 L328.30,91.45 L328.80,91.50 L329.30,91.56 L329.80,91.61 L330.30,91.66 L330.80,91.72 L331.30,91.77 L331.80,91.83 L332.30,91.88 L332.80,91.94 L333.30,91.99 L333.80,92.05 L334.30,92.11 L334.80,92.16 L335.30,92.22 L335.80,92.28 L336.30,92.34 L336.80,92.40 L337.30,92.46 L337.80,92.52 L338.30,92.58 L338.80,92.64 L339.30,92.70 L339.80,92.76 L340.30,92.82 L340.80,92.89 L341.30,92.95 L341.80,93.01 L342.30,93.08 L342.80,93.14 L343.30,93.20 L343.80,93.27 L344.30,93.34 L344.80,93.40 L345.30,93.47 L345.80,93.54 L346.30,93.60 L346.80,93.67 L347.30,93.74 L347.80,93.81 L348.30,93.88 L348.80,93.95 L349.30,94.02 L349.80,94.09 L350.30,94.16 L350.80,94.24 L351.30,94.31 L351.80,94.38 L352.30,94.46 L352.80,94.53 L353.30,94.61 L353.80,94.68 L354.30,94.76 L354.80,94.84 L355.30,94.91 L355.80,94.99 L356.30,95.07 L356.80,95.15 L357.30,95.23 L357.80,95.31 L358.30,95.39 L358.80,95.47 L359.30,95.55 L359.80,95.63 L360.30,95.72 L360.80,95.80 L361.30,95.89 L361.80,95.97 L362.30,96.06 L362.80,96.14 L363.30,96.23 L363.80,96.32 L364.30,96.40 L364.80,96.49 L365.30,96.58 L365.80,96.67 L366.30,96.76 L366.80,96.85 L367.30,96.95 L367.80,97.04 L368.30,97.13 L368.80,97.23 L369.30,97.32 L369.80,97.42 L370.30,97.51 L370.80,97.61 L371.30,97.71 L371.80,97.81 L372.30,97.90 L372.80,98.00 L373.30,98.10 L373.80,98.21 L374.30,98.31 L374.80,98.41 L375.30,98.51 L375.80,98.62 L376.30,98.72 L376.80,98.83 L377.30,98.93 L377.80,99.04 L378.30,99.15 L378.80,99.26 L379.30,99.37 L379.80,99.48 L380.30,99.59 L380.80,99.70 L381.30,99.81 L381.80,99.93 L382.30,100.04 L382.80,100.16 L383.30,100.27 L383.80,100.39 L384.30,100.51 L384.80,100.63 L385.30,100.75 L385.80,100.87 L386.30,100.99 L386.80,101.11 L387.30,101.23 L387.80,101.36 L388.30,101.48 L388.80,101.61 L389.30,101.73 L389.80,101.86 L390.30,101.99 L390.80,102.12 L391.30,102.25 L391.80,102.38 L392.30,102.51 L392.80,102.64 L393.30,102.78 L393.80,102.91 L394.30,103.05 L394.80,103.19 L395.30,103.33 L395.80,103.46 L396.30,103.60 L396.80,103.75 L397.30,103.89 L397.80,104.03 L398.30,104.17 L398.80,104.32 L399.30,104.47 L399.80,104.61 L400.30,104.76 L400.80,104.91 L401.30,105.06 L401.80,105.21 L402.30,105.37 L402.80,105.52 L403.30,105.68 L403.80,105.83 L404.30,105.99 L404.80,106.15 L405.30,106.31 L405.80,106.47 L406.30,106.63 L406.80,106.79 L407.30,106.96 L407.80,107.12 L408.30,107.29 L408.80,107.46 L409.30,107.62 L409.80,107.79 L410.30,107.97 L410.80,108.14 L411.30,108.31 L411.80,108.49 L412.30,108.66 L412.80,108.84 L413.30,109.02 L413.80,109.20 L414.30,109.38 L414.80,109.57 L415.30,109.75 L415.80,109.93 L416.30,110.12 L416.80,110.31 L417.30,110.50 L417.80,110.69 L418.30,110.88 L418.80,111.08 L419.30,111.27 L419.80,111.47 L420.30,111.67 L420.80,111.87 L421.30,112.07 L421.80,112.27 L422.30,112.47 L422.80,112.68 L423.30,112.88 L423.80,113.09 L424.30,113.30 L424.80,113.51 L425.30,113.72 L425.80,113.94 L426.30,114.15 L426.80,114.37 L427.30,114.59 L427.80,114.81 L428.30,115.03 L428.80,115.26 L429.30,115.48 L429.80,115.71 L430.30,115.94 L430.80,116.17 L431.30,116.40 L431.80,116.63 L432.30,116.87 L432.80,117.10 L433.30,117.34 L433.80,117.58 L434.30,117.82 L434.80,118.07 L435.30,118.31 L435.80,118.56 L436.30,118.81 L436.80,119.06 L437.30,119.31 L437.80,119.57 L438.30,119.82 L438.80,120.08 L439.30,120.34 L439.80,120.60 L440.30,120.86 L440.80,121.13 L441.30,121.40 L441.80,121.67 L442.30,121.94 L442.80,122.21 L443.30,122.48 L443.80,122.76 L444.30,123.04 L444.80,123.32 L445.30,123.60 L445.80,123.89 L446.30,124.17 L446.80,124.46 L447.30,124.75 L447.80,125.05 L448.30,125.34 L448.80,125.64 L449.30,125.94 L449.80,126.24 L450.30,126.54 L450.80,126.85 L451.30,127.16 L451.80,127.47 L452.30,127.78 L452.80,128.10 L453.30,128.41 L453.80,128.73 L454.30,129.05 L454.80,129.38 L455.30,129.70 L455.80,130.03 L456.30,130.36 L456.80,130.69 L457.30,131.03 L457.80,131.37 L458.30,131.71 L458.80,132.05 L459.30,132.39 L459.80,132.74 L460.30,133.09 L460.80,133.44 L461.30,133.80 L461.80,134.15 L462.30,134.51 L462.80,134.88 L463.30,135.24 L463.80,135.61 L464.30,135.98 L464.80,136.35 L465.30,136.73 L465.80,137.10 L466.30,137.48 L466.80,137.87 L467.30,138.25 L467.80,138.64 L468.30,139.03 L468.80,139.43 L469.30,139.82 L469.80,140.22 L470.30,140.63 L470.80,141.03 L471.30,141.44 L471.80,141.85 L472.30,142.26 L472.80,142.68 L473.30,143.10 L473.80,143.52 L474.30,143.95 L474.80,144.38 L475.30,144.81 L475.80,145.24 L476.30,145.68 L476.80,146.12 L477.30,146.56 L477.80,147.01 L478.30,147.46 L478.80,147.91 L479.30,148.37 L479.80,148.83 L480.30,149.29 L480.80,149.76 L481.30,150.23 L481.80,150.70 L482.30,151.18 L482.80,151.66 L483.30,152.14 L483.80,152.62 L484.30,153.11 L484.80,153.60 L485.30,154.10 L485.80,154.60 L486.30,155.10 L486.80,155.61 L487.30,156.12 L487.80,156.63 L488.30,157.15 L488.80,157.67 L489.30,158.19 L489.80,158.72 L490.30,159.25 L490.80,159.79 L491.30,160.33 L491.80,160.87 L492.30,161.41 L492.80,161.96 L493.30,162.52 L493.80,163.08 L494.30,163.64 L494.80,164.20 L495.30,164.77 L495.80,165.34 L496.30,165.92 L496.80,166.50 L497.30,167.09 L497.80,167.68 L498.30,168.27 L498.80,168.87 L499.30,169.47 L499.80,170.07 L500.30,170.68 L500.80,171.30 L501.30,171.91 L501.80,172.54 L502.30,173.16 L502.80,173.79 L503.30,174.43 L503.80,175.07 L504.30,175.71 L504.80,176.36 L505.30,177.01 L505.80,177.67 L506.30,178.33 L506.80,178.99 L507.30,179.66 L507.80,180.34 L508.30,181.02 L508.80,181.70 L509.30,182.39 L509.80,183.08 L510.30,183.78 L510.80,184.48 L511.30,185.19 L511.80,185.90 L512.30,186.62 L512.80,187.34 L513.30,188.07 L513.80,188.80 L514.30,189.54 L514.80,190.28 L515.30,191.02 L515.80,191.78 L516.30,192.53 L516.80,193.29 L517.30,194.06 L517.80,194.83 L518.30,195.61 L518.80,196.39 L519.30,197.18 L519.80,197.97 L520.30,198.77 L520.80,199.57 L521.30,200.38 L521.80,201.19 L522.30,202.01 L522.80,202.84 L523.30,203.67 L523.80,204.50 L524.30,205.35 L524.80,206.19 L525.30,207.05 L525.80,207.90 L526.30,208.77 L526.80,209.64 L527.30,210.51 L527.80,211.39 L528.30,212.28 L528.80,213.17 L529.30,214.07 L529.80,214.98 L530.30,215.89 L530.80,216.80 L531.30,217.73 L531.80,218.65 L532.30,219.59 L532.80,220.53 L533.30,221.48 L533.80,222.43 L534.30,223.39 L534.80,224.35 L535.30,225.33 L535.80,226.30 L536.30,227.29 L536.80,228.28 L537.30,229.28 L537.80,230.28 L538.30,231.29 L538.80,232.31 L539.30,233.33 L539.80,234.36 L540.30,235.40 L540.80,236.44 L541.30,237.49 L541.80,238.55 L542.30,239.61 L542.80,240.68 L543.30,241.76 L543.80,242.84 L544.30,243.93 L544.80,245.03 L545.30,246.14 L545.80,247.25 L546.30,248.37 L546.80,249.49 L547.30,250.63 L547.80,251.77 L548.30,252.92 L548.80,254.07 L549.30,255.23 L549.80,256.40 L550.30,257.58 L550.80,258.77 L551.30,259.96 L551.80,261.16 L552.30,262.37 L552.80,263.58 L553.30,264.80 L553.80,266.03 L554.30,267.27 L554.80,268.52 L555.30,269.77 L555.80,271.03 L556.30,272.30 L556.80,273.58 L557.30,274.86 L557.80,276.15 L558.30,277.45 L558.80,278.76 L559.30,280.08 L559.80,281.41 L560.30,282.74 L560.80,284.08 L561.30,285.43 L561.80,286.79 L562.30,288.15 L562.80,289.53 L563.30,290.91 L563.80,292.30 L564.30,293.70 L564.80,295.11 L565.30,296.53 L565.80,297.96 L566.30,299.39 L566.80,300.83 L567.30,302.28 L567.80,303.75 L568.30,305.21 L568.80,306.69 L569.30,308.18 L569.80,309.68 L570.30,311.18 L570.80,312.70 L571.30,314.22 L571.80,315.75 L572.30,317.29 L572.80,318.84 L573.30,320.40 L573.80,321.97 L574.30,323.55 L574.80,325.14 L575.30,326.73 L575.80,328.34 L576.30,329.96 L576.80,331.58 L577.30,333.21 L577.80,334.86 L578.30,336.51 L578.80,338.18 L579.30,339.85 L579.80,341.53 L580.30,343.23 L580.80,344.93 L581.30,346.64 L581.80,348.36 L582.30,350.09 L582.80,351.84 L583.30,353.59 L583.80,355.35 L584.30,357.12 L584.80,358.91 L585.30,360.70 L585.80,362.50 L586.30,364.31 L586.80,366.14 L587.30,367.97 L587.80,369.81 L588.30,371.67 L588.80,373.53 L589.30,375.41 L589.80,377.29 L590.30,379.19 L590.80,381.10 L591.30,383.01 L591.80,384.94 L592.30,386.88 L592.80,388.83 L593.30,390.79 L593.80,392.76 L594.30,394.74 L594.80,396.73 L595.30,398.74 L595.80,400.75 L596.30,402.77 L596.80,404.81 L597.30,406.86 L597.80,408.92 L598.30,410.99 L598.80,413.07 L599.30,415.16 L599.80,417.26 L600.30,419.37 L600.80,421.50 L601.30,423.64 L601.80,425.78 L602.30,427.94 L602.80,430.11 L603.30,432.30 L603.80,434.49 L604.30,436.69 L604.80,438.91 L605.30,441.14 L605.80,443.38 L606.30,445.63 L606.80,447.89 L607.30,450.17 L607.80,452.45 L608.30,454.75 L608.80,457.06 L609.30,459.38 L609.80,461.71 L610.30,464.06 L610.80,466.42 L611.30,468.78 L611.80,471.17 L612.30,473.56 L612.45,474.30" fill="none" stroke="#ff0000" stroke-width="5.95" stroke-dasharray="18.8 6.7"/>
</g>
<rect x="108.5" y="0.5" width="637.0" height="510.0" fill="none" stroke="#8f8f8f" stroke-width="1"/>
<path d="M108.5,18.00h4.3 M745.5,18.00h-4.3 M108.5,36.70h2.6 M745.5,36.70h-2.6 M108.5,55.40h2.6 M745.5,55.40h-2.6 M108.5,74.10h2.6 M745.5,74.10h-2.6 M108.5,92.80h2.6 M745.5,92.80h-2.6 M108.5,111.50h4.3 M745.5,111.50h-4.3 M108.5,130.20h2.6 M745.5,130.20h-2.6 M108.5,148.90h2.6 M745.5,148.90h-2.6 M108.5,167.60h2.6 M745.5,167.60h-2.6 M108.5,186.30h2.6 M745.5,186.30h-2.6 M108.5,205.00h4.3 M745.5,205.00h-4.3 M108.5,223.70h2.6 M745.5,223.70h-2.6 M108.5,242.40h2.6 M745.5,242.40h-2.6 M108.5,261.10h2.6 M745.5,261.10h-2.6 M108.5,279.80h2.6 M745.5,279.80h-2.6 M108.5,298.50h4.3 M745.5,298.50h-4.3 M108.5,317.20h2.6 M745.5,317.20h-2.6 M108.5,335.90h2.6 M745.5,335.90h-2.6 M108.5,354.60h2.6 M745.5,354.60h-2.6 M108.5,373.30h2.6 M745.5,373.30h-2.6 M108.5,392.00h4.3 M745.5,392.00h-4.3 M108.5,410.70h2.6 M745.5,410.70h-2.6 M108.5,429.40h2.6 M745.5,429.40h-2.6 M108.5,448.10h2.6 M745.5,448.10h-2.6 M108.5,466.80h2.6 M745.5,466.80h-2.6 M108.5,485.50h4.3 M745.5,485.50h-4.3 M108.5,504.20h2.6 M745.5,504.20h-2.6 M121.00,510.5v-4.3 M121.00,0.5v4.3 M152.37,510.5v-2.6 M152.37,0.5v2.6 M183.74,510.5v-2.6 M183.74,0.5v2.6 M215.11,510.5v-2.6 M215.11,0.5v2.6 M246.48,510.5v-2.6 M246.48,0.5v2.6 M277.85,510.5v-4.3 M277.85,0.5v4.3 M309.22,510.5v-2.6 M309.22,0.5v2.6 M340.59,510.5v-2.6 M340.59,0.5v2.6 M371.96,510.5v-2.6 M371.96,0.5v2.6 M403.33,510.5v-2.6 M403.33,0.5v2.6 M434.70,510.5v-4.3 M434.70,0.5v4.3 M466.07,510.5v-2.6 M466.07,0.5v2.6 M497.44,510.5v-2.6 M497.44,0.5v2.6 M528.81,510.5v-2.6 M528.81,0.5v2.6 M560.18,510.5v-2.6 M560.18,0.5v2.6 M591.55,510.5v-4.3 M591.55,0.5v4.3 M622.92,510.5v-2.6 M622.92,0.5v2.6 M654.29,510.5v-2.6 M654.29,0.5v2.6 M685.66,510.5v-2.6 M685.66,0.5v2.6 M717.03,510.5v-2.6 M717.03,0.5v2.6" stroke="#666" stroke-width="0.75" fill="none"/>
<text x="104.2" y="27.7" text-anchor="end">0.975</text><text x="104.2" y="121.2" text-anchor="end">0.970</text><text x="104.2" y="214.7" text-anchor="end">0.965</text><text x="104.2" y="308.2" text-anchor="end">0.960</text><text x="104.2" y="401.7" text-anchor="end">0.955</text><text x="104.2" y="495.2" text-anchor="end">0.950</text>
<text x="121.3" y="539.2" text-anchor="middle"><tspan style="fill:none;stroke:none">−</tspan>6</text><path d="M106.4,531.9h13.3" stroke="#000" stroke-width="2.2"/><text x="278.2" y="539.2" text-anchor="middle"><tspan style="fill:none;stroke:none">−</tspan>5</text><path d="M263.3,531.9h13.3" stroke="#000" stroke-width="2.2"/><text x="435.0" y="539.2" text-anchor="middle"><tspan style="fill:none;stroke:none">−</tspan>4</text><path d="M420.1,531.9h13.3" stroke="#000" stroke-width="2.2"/><text x="591.8" y="539.2" text-anchor="middle"><tspan style="fill:none;stroke:none">−</tspan>3</text><path d="M576.9,531.9h13.3" stroke="#000" stroke-width="2.2"/>
<text x="401.3" y="576.5" style="letter-spacing:0.4px">log<tspan font-style="italic">δ</tspan></text>
<g transform="translate(24.9,268.3) rotate(-90)"><text x="0" y="0" font-style="italic" style="font-size:25.6px">n</text><text x="14.6" y="5.6" style="font-size:20px">s</text></g>
<path d="M131.5,363.40H166.6" stroke="#00ff00" stroke-width="3.5" stroke-dasharray="7 7" stroke-linecap="square" fill="none"/><text x="185" y="371.0" style="font-size:21px"><tspan font-style="italic" style="font-size:23px" dy="1">ξ</tspan><tspan dy="-1">=</tspan><tspan dx="-0.2">1</tspan></text><path d="M131.5,404.65H166.6" stroke="#ff0000" stroke-width="3.5" stroke-dasharray="7 7" stroke-linecap="square" fill="none"/><text x="185" y="412.2" style="font-size:21px"><tspan font-style="italic" style="font-size:23px" dy="1">ξ</tspan><tspan dy="-1">=</tspan><tspan dx="0.8">0.98</tspan></text><path d="M131.5,445.90H166.6" stroke="#000000" stroke-width="3.5" stroke-dasharray="7 7" stroke-linecap="square" fill="none"/><text x="185" y="453.5" style="font-size:21px"><tspan font-style="italic" style="font-size:23px" dy="1">ξ</tspan><tspan dy="-1">=</tspan><tspan dx="0.8">0.97</tspan></text><path d="M131.5,487.15H166.6" stroke="#0000ff" stroke-width="3.5" stroke-dasharray="7 7" stroke-linecap="square" fill="none"/><text x="185" y="494.8" style="font-size:21px"><tspan font-style="italic" style="font-size:23px" dy="1">ξ</tspan><tspan dy="-1">=</tspan><tspan dx="0.8">0.96</tspan></text>
</svg>
</body></html>
